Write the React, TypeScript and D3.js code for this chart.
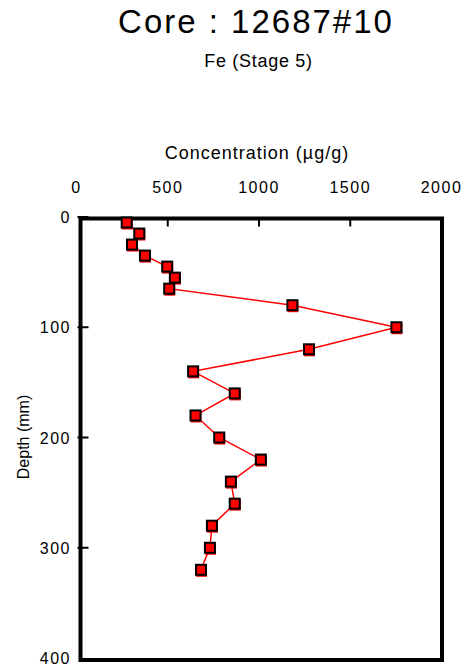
import React from "react";
import * as d3 from "d3";

const depths = [5, 15, 25, 35, 45, 55, 65, 80, 100, 120, 140, 160, 180, 200, 220, 240, 260, 280, 300, 320];
const fe = [275, 344, 304, 375, 497, 539, 508, 1183, 1753, 1274, 639, 867, 652, 782, 1010, 846, 867, 742, 731, 682];
const xTicks = [0, 500, 1000, 1500, 2000];
const yTicks = [0, 100, 200, 300, 400];
const title = "Core : 12687#10";
const subtitle = "Fe (Stage 5)";
const xTitle = "Concentration (µg/g)";
const yTitle = "Depth (mm)";

const FONT = "'Liberation Sans', Arial, sans-serif";

export default function App() {
  const W = 467, H = 668;
  const x = d3.scaleLinear().domain([0, 2000]).range([76.5, 441.5]);
  const y = d3.scaleLinear().domain([0, 400]).range([217, 658]);
  const pts = depths.map((d, i) => [x(fe[i]), y(d)] as [number, number]);
  const line = d3.line<[number, number]>()(pts) || "";
  const boxL = 80.5, boxR = 442, boxT = 218.5, boxB = 660;
  return (
    <svg width={W} height={H} style={{ position: "absolute", left: 0, top: 0, background: "#fff" }} fontFamily={FONT}>
      <rect x={0} y={0} width={W} height={H} fill="#fff" />
      <text x={256} y={33} fontSize={33} textAnchor="middle" fill="#000" letterSpacing={2}>{title}</text>
      <text x={258.5} y={67} fontSize={18} textAnchor="middle" fill="#000" letterSpacing={0.7}>{subtitle}</text>
      <text x={257} y={159} fontSize={18} textAnchor="middle" fill="#000" letterSpacing={1}>{xTitle}</text>
      {xTicks.map((t) => (
        <text key={"xl" + t} x={x(t)} y={193} fontSize={16} textAnchor="middle" fill="#000" letterSpacing={1.5}>{t}</text>
      ))}
      {yTicks.map((t) => (
        <text key={"yl" + t} x={71} y={y(t) + 6} fontSize={16} textAnchor="end" fill="#000" letterSpacing={1.5}>{t}</text>
      ))}
      <text transform={`translate(29,${437}) rotate(-90)`} fontSize={16} textAnchor="middle" fill="#000">{yTitle}</text>
      {/* box */}
      <rect x={boxL} y={boxT} width={boxR - boxL} height={boxB - boxT} fill="none" stroke="#000" strokeWidth={4} />
      {xTicks.slice(1, 4).map((t) => (
        <line key={"xt" + t} x1={x(t)} x2={x(t)} y1={boxT} y2={boxT + 8} stroke="#000" strokeWidth={2} />
      ))}
      {yTicks.slice(1, 4).map((t) => (
        <line key={"yt" + t} x1={boxL - 3} x2={boxL + 8} y1={y(t)} y2={y(t)} stroke="#000" strokeWidth={2} />
      ))}
      <line x1={boxL - 3} x2={boxL + 8} y1={y(0)} y2={y(0)} stroke="#000" strokeWidth={2} />
      <path d={line} fill="none" stroke="#ff0000" strokeWidth={1.5} />
      {pts.map(([px, py], i) => (
        <g key={"m" + i}>
          <rect x={px - 5} y={py - 4} width={11} height={11} fill="#ff0000" />
          <rect x={px - 5} y={py - 5} width={10} height={10} fill="#ff0000" stroke="#000" strokeWidth={2} />
        </g>
      ))}
    </svg>
  );
}
